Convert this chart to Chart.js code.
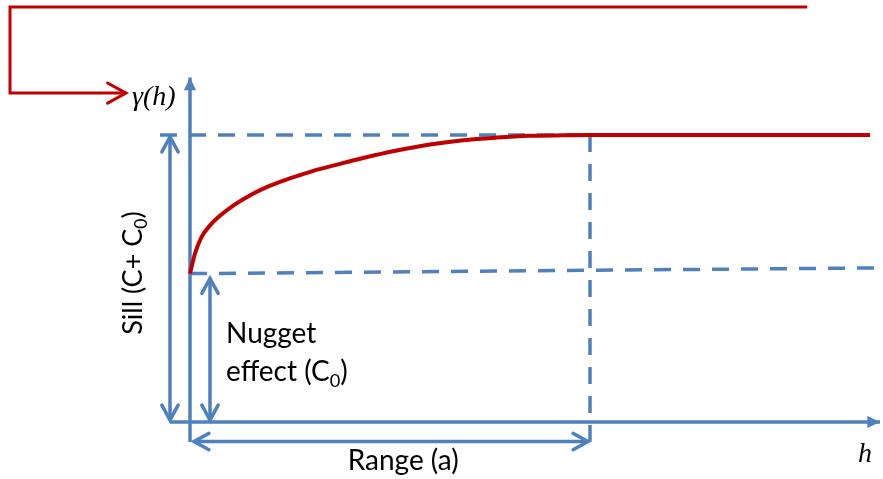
<!DOCTYPE html>
<html>
<head>
<meta charset="utf-8">
<title>Variogram</title>
<script src="https://cdn.jsdelivr.net/npm/chart.js@4.4.1/dist/chart.umd.min.js"></script>
<style>
  html, body { margin: 0; padding: 0; background: #fff; }
  canvas { display: block; }
</style>
</head>
<body>
<canvas id="chart" width="883" height="479"></canvas>
<script>
// values (h in lag units, gamma in semivariance units)
const rangeA = 10.0;
const sill = 10.0;
const nuggetGamma = [5.17, 5.37]; // left end, right end (the line is drawn a little tilted)
const hAxisEnds = [-0.5, 17.25];
const gammaAxisEnds = [-0.7, 12.0];

const curveH = [0, 0.125, 0.29, 0.5, 0.71, 1.125, 1.54, 1.96, 2.375, 2.79, 3.21, 3.625, 4.33, 5.17, 6.0, 6.83, 7.67, 8.5, 9.33, 10, 17.0];
const curveGamma = [5.17, 5.87, 6.45, 6.85, 7.14, 7.58, 7.93, 8.21, 8.43, 8.62, 8.8, 8.95, 9.2, 9.46, 9.67, 9.82, 9.91, 9.97, 9.99, 10.0, 10.0];

// red bracket pointing at the gamma label
const bracketH = [15.43, -4.5, -4.5, -1.6];
const bracketGamma = [14.46, 14.46, 11.46, 11.46];

const sillLineH = [-0.75, 17.0];
const sillArrowH = -0.5;
const sillArrowGamma = [0.07, 9.93];
const nuggetArrowH = 0.5;
const nuggetArrowGamma = [0.07, 5.0];
const rangeArrowGamma = -0.68;
const rangeArrowH = [0.1, 9.95];

const BLUE = "#4F81BD";
const RED = "#C00000";

const pts = (xs, ys) => xs.map((x, i) => ({ x, y: ys[i] }));

function line(data, extra) {
  return Object.assign({
    data,
    showLine: true,
    pointRadius: 0,
    borderColor: BLUE,
    borderWidth: 3.5,
    fill: false,
    clip: false,
    tension: 0,
  }, extra);
}

// arrowheads at dataset ends, drawn in pixel space
const arrowPlugin = {
  id: "arrows",
  afterDatasetsDraw(chart) {
    const ctx = chart.ctx;
    chart.data.datasets.forEach((ds, i) => {
      const pts = chart.getDatasetMeta(i).data;
      if (pts.length < 2) return;
      const heads = [];
      if (ds.arrowEnd) heads.push([pts[pts.length - 1], pts[pts.length - 2], ds.arrowEnd]);
      if (ds.arrowStart) heads.push([pts[0], pts[1], ds.arrowStart]);
      heads.forEach(([tip, prev, kind]) => {
        const ang = Math.atan2(tip.y - prev.y, tip.x - prev.x);
        const len = ds.arrowSize || 16;
        const spread = kind === "filled" ? 0.45 : 0.5;
        const ax = tip.x - len * Math.cos(ang - spread);
        const ay = tip.y - len * Math.sin(ang - spread);
        const bx = tip.x - len * Math.cos(ang + spread);
        const by = tip.y - len * Math.sin(ang + spread);
        ctx.save();
        ctx.strokeStyle = ds.borderColor;
        ctx.fillStyle = ds.borderColor;
        ctx.lineWidth = ds.borderWidth;
        ctx.setLineDash([]);
        ctx.beginPath();
        if (kind === "filled") {
          ctx.moveTo(tip.x, tip.y);
          ctx.lineTo(ax, ay);
          ctx.lineTo(bx, by);
          ctx.closePath();
          ctx.fill();
        } else {
          ctx.lineCap = "round";
          ctx.lineJoin = "miter";
          ctx.moveTo(ax, ay);
          ctx.lineTo(tip.x, tip.y);
          ctx.lineTo(bx, by);
          ctx.stroke();
        }
        ctx.restore();
      });
    });
  },
};

// text with a subscript 0
function drawParts(ctx, parts, x, y, size, family, align) {
  const widths = parts.map(([t, sub]) => {
    ctx.font = `${sub ? size * 0.65 : size}px ${family}`;
    return ctx.measureText(t).width;
  });
  const total = widths.reduce((a, b) => a + b, 0);
  let cx = align === "center" ? x - total / 2 : x;
  parts.forEach(([t, sub], i) => {
    ctx.font = `${sub ? size * 0.65 : size}px ${family}`;
    ctx.fillText(t, cx, sub ? y + size * 0.2 : y);
    cx += widths[i];
  });
}

const labelPlugin = {
  id: "labels",
  afterDraw(chart) {
    const ctx = chart.ctx;
    const sx = chart.scales.x, sy = chart.scales.y;
    const sans = "Lato, 'Open Sans', sans-serif";
    ctx.save();
    ctx.fillStyle = "#000";
    ctx.textBaseline = "alphabetic";
    ctx.textAlign = "left";

    ctx.font = "italic 28px 'Liberation Serif', serif";
    ctx.fillText("\u03b3(h)", sx.getPixelForValue(-1.45), sy.getPixelForValue(11.05));
    ctx.fillText("h", sx.getPixelForValue(16.7), sy.getPixelForValue(-1.39));

    drawParts(ctx, [["Nugget", false]], sx.getPixelForValue(0.9), sy.getPixelForValue(2.75), 28, sans, "left");
    drawParts(ctx, [["effect (C", false], ["0", true], [")", false]],
      sx.getPixelForValue(0.9), sy.getPixelForValue(1.43), 28, sans, "left");
    drawParts(ctx, [["Range (a)", false]], sx.getPixelForValue(5.33), sy.getPixelForValue(-1.67), 28, sans, "center");

    ctx.translate(sx.getPixelForValue(-1.425) + 9, sy.getPixelForValue(5.19));
    ctx.rotate(-Math.PI / 2);
    drawParts(ctx, [["Sill (C+ C", false], ["0", true], [")", false]], 0, 0, 27, sans, "center");
    ctx.restore();
  },
};

new Chart(document.getElementById("chart"), {
  type: "scatter",
  data: {
    datasets: [
      // red curve and bracket (first = on top)
      line(pts(curveH, curveGamma), { borderColor: RED, borderWidth: 4, cubicInterpolationMode: "monotone" }),
      line(pts(bracketH, bracketGamma), { borderColor: RED, borderWidth: 3, borderJoinStyle: "miter", arrowEnd: "open", arrowSize: 21 }),
      // axes
      line(pts([0, 0], gammaAxisEnds), { arrowEnd: "filled", arrowSize: 14 }),
      line(pts(hAxisEnds, [0, 0]), { arrowEnd: "filled", arrowSize: 14 }),
      // guide lines
      line(pts(sillLineH, [sill, sill]), { borderDash: [17, 12] }),
      line(pts([0, hAxisEnds[1]], nuggetGamma), { borderDash: [17, 12] }),
      line(pts([rangeA, rangeA], [sill, rangeArrowGamma]), { borderDash: [17, 12] }),
      // dimension arrows
      line(pts([sillArrowH, sillArrowH], sillArrowGamma), { arrowStart: "open", arrowEnd: "open", arrowSize: 17 }),
      line(pts([nuggetArrowH, nuggetArrowH], nuggetArrowGamma), { arrowStart: "open", arrowEnd: "open", arrowSize: 17 }),
      line(pts(rangeArrowH, [rangeArrowGamma, rangeArrowGamma]), { arrowStart: "open", arrowEnd: "open", arrowSize: 17 }),
    ],
  },
  options: {
    responsive: false,
    animation: false,
    layout: { padding: 0 },
    plugins: { legend: { display: false }, tooltip: { enabled: false } },
    scales: {
      x: { type: "linear", min: -4.75, max: 17.325, display: false },
      y: { type: "linear", min: -1.986, max: 14.704, display: false },
    },
  },
  plugins: [arrowPlugin, labelPlugin],
});
</script>
</body>
</html>
